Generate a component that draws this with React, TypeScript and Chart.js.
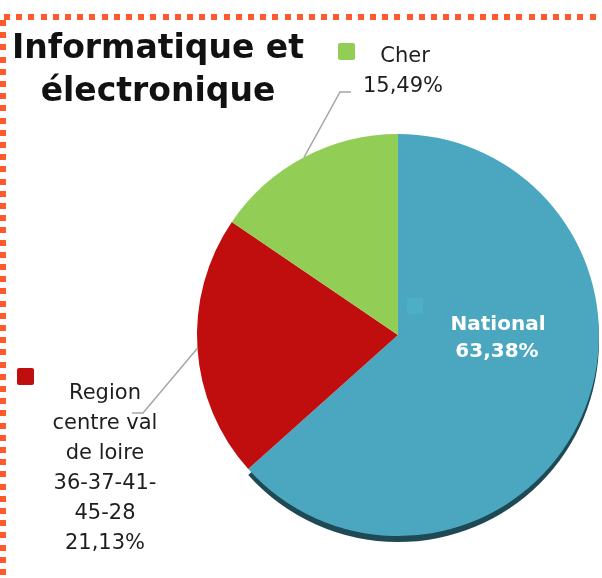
import React, { useEffect, useRef } from "react";
import { Chart, registerables } from "chart.js";

Chart.register(...registerables);

const categories = ["National", "Region centre val de loire 36-37-41-45-28", "Cher"];
const values = [63.38, 21.13, 15.49];
const colors = ["#4BA7C0", "#C00E0E", "#92CD55"];
const titleLines = ["Informatique et", "électronique"];
const regionLabelLines = ["Region", "centre val", "de loire", "36-37-41-", "45-28"];
const cherLabelLines = ["Cher"];
const nationalLabelLines = ["National"];

const fmt = (v: number) => v.toFixed(2).replace(".", ",") + "%";

const FONT = "'DejaVu Sans', sans-serif";

const decoPlugin = {
  id: "deco",
  beforeDatasetsDraw(chart: any) {
    const ctx = chart.ctx;
    const meta = chart.getDatasetMeta(0);
    const a = meta.data[0].getProps(["x", "y", "startAngle", "endAngle", "outerRadius"], true);
    ctx.save();
    ctx.fillStyle = "#1F4A55";
    ctx.beginPath();
    ctx.moveTo(a.x, a.y + 6);
    ctx.arc(a.x, a.y + 6, a.outerRadius, a.startAngle, a.endAngle);
    ctx.closePath();
    ctx.fill();
    ctx.restore();
  },
  afterDraw(chart: any) {
    const ctx = chart.ctx;
    const meta = chart.getDatasetMeta(0);
    const edge = (i: number) => {
      const a = meta.data[i].getProps(["x", "y", "startAngle", "endAngle", "outerRadius"], true);
      const m = (a.startAngle + a.endAngle) / 2;
      return [a.x + a.outerRadius * Math.cos(m), a.y + a.outerRadius * Math.sin(m)];
    };
    ctx.save();
    // title
    ctx.fillStyle = "#111";
    ctx.textAlign = "center";
    ctx.textBaseline = "alphabetic";
    ctx.font = "bold 33px " + FONT;
    titleLines.forEach((t, i) => ctx.fillText(t, 158, 58 + i * 43));

    // leader lines
    ctx.strokeStyle = "#A6A6A6";
    ctx.lineWidth = 1.5;
    const ce = edge(2);
    ctx.beginPath();
    ctx.moveTo(351, 92);
    ctx.lineTo(340, 92);
    ctx.lineTo(ce[0], ce[1]);
    ctx.stroke();
    const re = edge(1);
    ctx.beginPath();
    ctx.moveTo(132, 413);
    ctx.lineTo(143, 413);
    ctx.lineTo(re[0], re[1]);
    ctx.stroke();

    // Cher legend
    ctx.fillStyle = colors[2];
    ctx.beginPath();
    (ctx as any).roundRect ? (ctx as any).roundRect(338, 43, 17, 17, 2) : ctx.rect(338, 43, 17, 17);
    ctx.fill();
    ctx.fillStyle = "#1E1E1E";
    ctx.font = "21px " + FONT;
    ctx.fillText(cherLabelLines[0], 405, 62);
    ctx.fillText(fmt(values[2]), 403, 92);

    // Region legend
    ctx.fillStyle = colors[1];
    ctx.beginPath();
    (ctx as any).roundRect ? (ctx as any).roundRect(17, 368, 17, 17, 2) : ctx.rect(17, 368, 17, 17);
    ctx.fill();
    ctx.fillStyle = "#1E1E1E";
    const lines = [...regionLabelLines, fmt(values[1])];
    lines.forEach((t, i) => ctx.fillText(t, 105, 399 + i * 29.9));

    // National label
    ctx.fillStyle = "#4DAEC8";
    ctx.fillRect(407, 298, 16, 16);
    ctx.fillStyle = "#FFFFFF";
    ctx.font = "bold 20px " + FONT;
    ctx.fillText(nationalLabelLines[0], 498, 330);
    ctx.fillText(fmt(values[0]), 497, 357);
    ctx.restore();
  },
};

export default function App() {
  const ref = useRef<HTMLCanvasElement>(null);
  useEffect(() => {
    if (!ref.current) return;
    const chart = new Chart(ref.current, {
      type: "pie",
      data: {
        labels: categories,
        datasets: [
          {
            data: values,
            backgroundColor: colors,
            borderWidth: 0,
            hoverOffset: 0,
          },
        ],
      },
      options: {
        responsive: false,
        animation: false,
        layout: { padding: { left: 197, right: 3, top: 134, bottom: 42 } },
        plugins: { legend: { display: false }, tooltip: { enabled: false } },
        events: [],
      },
      plugins: [decoPlugin],
    });
    return () => chart.destroy();
  }, []);

  const dot = "#FF5A2D";
  return (
    <div style={{ position: "absolute", left: 0, top: 0, width: 602, height: 578, background: "#fff", overflow: "hidden" }}>
      <canvas ref={ref} width={602} height={578} style={{ position: "absolute", left: 0, top: 0 }} />
      <div
        style={{
          position: "absolute",
          left: 4,
          top: 14,
          width: 598,
          height: 6,
          background: `repeating-linear-gradient(to right, ${dot} 0px, ${dot} 6px, transparent 6px, transparent 12.2px)`,
        }}
      />
      <div
        style={{
          position: "absolute",
          left: 0,
          top: 20,
          width: 6,
          height: 558,
          background: `repeating-linear-gradient(to bottom, ${dot} 0px, ${dot} 6px, transparent 6px, transparent 12.2px)`,
        }}
      />
    </div>
  );
}
